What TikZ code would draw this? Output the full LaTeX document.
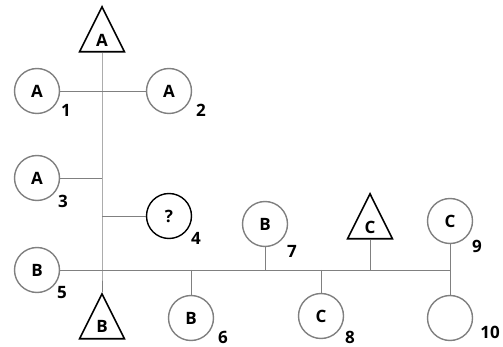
\documentclass[tikz,border=0pt]{standalone}
\usepackage{fontspec}
\setmainfont{Open Sans}
\usetikzlibrary{shapes.geometric}
\begin{document}
\begin{tikzpicture}[x=1pt,y=-1pt,
  lbl/.style={font=\bfseries\fontsize{17}{17}\selectfont},
  female/.style={circle,draw=black!50,line width=1.4pt,minimum size=45pt,inner sep=0pt,lbl},
  unknown/.style={female,draw=black},
  male/.style={isosceles triangle,isosceles triangle apex angle=53,shape border rotate=90,draw=black,line width=1.6pt,minimum height=45pt,inner sep=0pt,anchor=apex},
  link/.style={draw=black!50,line width=0.8pt},
  num/.style={lbl,inner sep=0pt}]
\useasboundingbox (0,0) rectangle (503,347);
% triangles: apex up, letter set near the base
\node[male] (tA) at (102,5) {};
\node[lbl] (tAl) at (102,40) {A};
\node[male] (tB) at (102,292) {};
\node[lbl] (tBl) at (102,326) {B};
\node[male] (tC) at (370,192) {};
\node[lbl] (tCl) at (370,227) {C};
% circles
\node[female] (a1) at (37,91) {A};
\node[female] (a2) at (169,91) {A};
\node[female] (a3) at (37,178) {A};
\node[unknown] (q4) at (169,216) {?};
\node[female] (b5) at (37,270) {B};
\node[female] (b6) at (191,318) {B};
\node[female] (b7) at (265,224) {B};
\node[female] (c8) at (321,316) {C};
\node[female] (c9) at (450,221) {C};
\node[female] (x10) at (450,318) {};
% numbers
\node[num] (n1) at (66,110) {1};
\node[num] (n2) at (201,110) {2};
\node[num] (n3) at (63,201) {3};
\node[num] (n4) at (196,238) {4};
\node[num] (n5) at (62,293) {5};
\node[num] (n6) at (223,337) {6};
\node[num] (n7) at (292,251) {7};
\node[num] (n8) at (350,337) {8};
\node[num] (n9) at (477,246) {9};
\node[num] (n10) at (490,332) {10};
% connectors
\coordinate (j1) at (102,178);
\coordinate (j2) at (102,216);
\coordinate (j3) at (102,270);
\coordinate (j6) at (191,270);
\coordinate (j7) at (265,270);
\coordinate (j8) at (321,270);
\coordinate (jC) at (370,270);
\coordinate (j9) at (450,270);
\draw[link] (tA.south) -- (j3) -- (tB.apex);
\draw[link] (a1) -- (a2);
\draw[link] (a3) -- (j1);
\draw[link] (j2) -- (q4);
\draw[link] (b5) -- (j9);
\draw[link] (j6) -- (b6);
\draw[link] (b7) -- (j7);
\draw[link] (j8) -- (c8);
\draw[link] (tC.south) -- (jC);
\draw[link] (c9) -- (x10);
\end{tikzpicture}
\end{document}
